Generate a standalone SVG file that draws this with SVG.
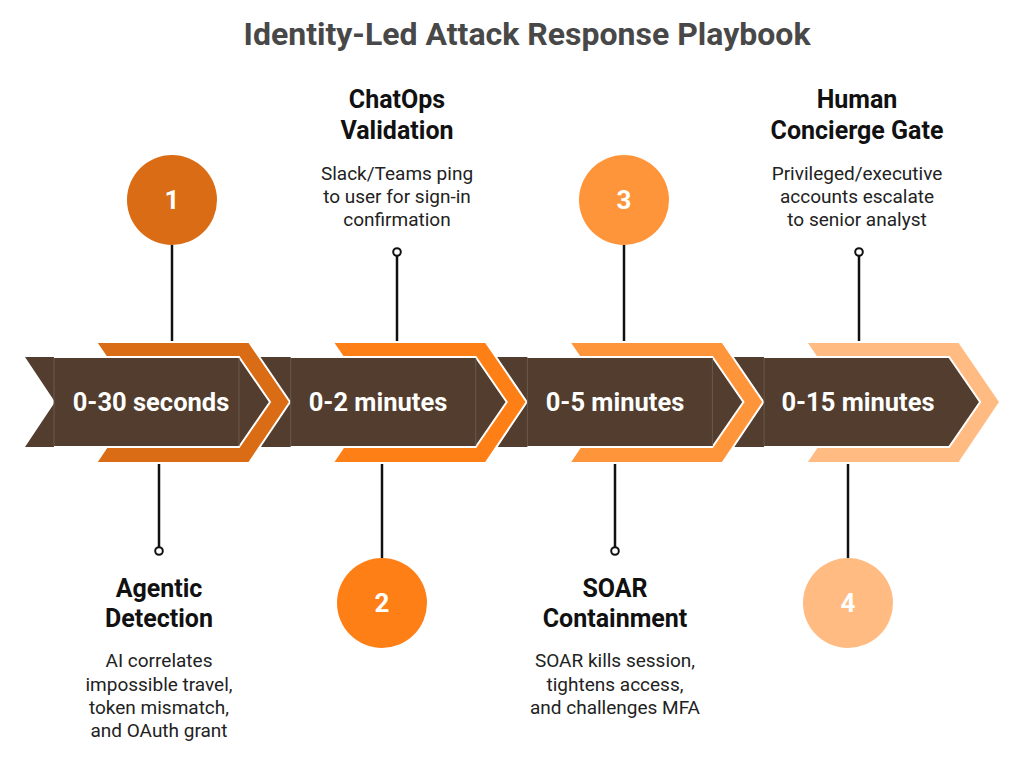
<svg xmlns="http://www.w3.org/2000/svg" width="1024" height="763" viewBox="0 0 1024 763">
<style>
.title{font-family:Roboto,"Liberation Sans",sans-serif;font-weight:700;font-size:32px;fill:#484848;text-anchor:middle}
.head{font-family:Roboto,"Liberation Sans",sans-serif;font-weight:700;font-size:25px;fill:#111;text-anchor:middle}
.desc{font-family:Roboto,"Liberation Sans",sans-serif;font-weight:400;font-size:19px;fill:#222;text-anchor:middle}
.band{font-family:Roboto,"Liberation Sans",sans-serif;font-weight:700;font-size:25.5px;fill:#fff;text-anchor:middle}
.num{font-family:Roboto,"Liberation Sans",sans-serif;font-weight:700;font-size:26px;fill:#fff;text-anchor:middle}
.dark{fill:#523D2E}
.edge{fill:none;stroke:#fff;stroke-width:2}
.seam{stroke:#6a5a4d;stroke-width:1}
.conn{stroke:#111;stroke-width:2.5;fill:none}
.pin{stroke:#111;stroke-width:2;fill:#fff}
.o1{fill:#D96C15}.o2{fill:#FF7F17}.o3{fill:#FF953A}.o4{fill:#FFBB82}
.ochev{stroke:#fff;stroke-width:2}
</style>
<defs>
<polygon id="ochevron" points="96,342 249,342 290,402 249,463 96,463 137,402"/>
<polygon id="dchevron" points="54,357 239,357 270,402 239,447 54,447"/>
<polyline id="dedge" points="54,357 239,357 270,402 239,447 54,447"/>
</defs>

<text class="title" x="527" y="45">Identity-Led Attack Response Playbook</text>

<g id="band">
<polygon class="dark" points="25,357 765,357 765,447 25,447 55,402"/>
</g>

<g id="connectors">
<line class="conn" x1="172" y1="245" x2="172" y2="342"/>
<line class="conn" x1="159" y1="463" x2="159" y2="547"/>
<line class="conn" x1="397" y1="256" x2="397" y2="342"/>
<line class="conn" x1="382" y1="463" x2="382" y2="558"/>
<line class="conn" x1="624" y1="245" x2="624" y2="342"/>
<line class="conn" x1="615" y1="463" x2="615" y2="547"/>
<line class="conn" x1="859" y1="256" x2="859" y2="342"/>
<line class="conn" x1="848" y1="463" x2="848" y2="558"/>
<circle class="pin" cx="159" cy="551" r="3.8"/>
<circle class="pin" cx="397" cy="252" r="3.8"/>
<circle class="pin" cx="615" cy="551" r="3.8"/>
<circle class="pin" cx="859" cy="252" r="3.8"/>
</g>

<g id="step1">
<use href="#ochevron" class="o1 ochev"/>
<use href="#dchevron" class="dark"/>
<use href="#dedge" class="edge"/>
<line class="seam" x1="54" y1="358" x2="54" y2="446"/>
<line class="seam" x1="239" y1="358" x2="239" y2="446"/>
<text class="band" x="151" y="411">0-30 seconds</text>
<circle class="o1" cx="172" cy="200" r="45"/>
<text class="num" x="172" y="209">1</text>
<text class="head" x="159" y="597">Agentic</text>
<text class="head" x="159" y="627">Detection</text>
<text class="desc" x="159" y="667">AI correlates</text>
<text class="desc" x="159" y="691">impossible travel,</text>
<text class="desc" x="159" y="714">token mismatch,</text>
<text class="desc" x="159" y="737">and OAuth grant</text>
</g>

<g id="step2" transform="translate(236.7,0)">
<use href="#ochevron" class="o2 ochev"/>
<use href="#dchevron" class="dark"/>
<use href="#dedge" class="edge"/>
<line class="seam" x1="54" y1="358" x2="54" y2="446"/>
<line class="seam" x1="239" y1="358" x2="239" y2="446"/>
</g>
<g id="step2-text">
<text class="band" x="378" y="411">0-2 minutes</text>
<circle class="o2" cx="382" cy="603" r="45"/>
<text class="num" x="382" y="612">2</text>
<text class="head" x="397" y="108">ChatOps</text>
<text class="head" x="397" y="139">Validation</text>
<text class="desc" x="397" y="180">Slack/Teams ping</text>
<text class="desc" x="397" y="203">to user for sign-in</text>
<text class="desc" x="397" y="226">confirmation</text>
</g>

<g id="step3" transform="translate(473.4,0)">
<use href="#ochevron" class="o3 ochev"/>
<use href="#dchevron" class="dark"/>
<use href="#dedge" class="edge"/>
<line class="seam" x1="54" y1="358" x2="54" y2="446"/>
<line class="seam" x1="239" y1="358" x2="239" y2="446"/>
</g>
<g id="step3-text">
<text class="band" x="615" y="411">0-5 minutes</text>
<circle class="o3" cx="624" cy="200" r="45"/>
<text class="num" x="624" y="209">3</text>
<text class="head" x="615" y="597">SOAR</text>
<text class="head" x="615" y="627">Containment</text>
<text class="desc" x="615" y="667">SOAR kills session,</text>
<text class="desc" x="615" y="691">tightens access,</text>
<text class="desc" x="615" y="714">and challenges MFA</text>
</g>

<g id="step4" transform="translate(710.1,0)">
<use href="#ochevron" class="o4 ochev"/>
<use href="#dchevron" class="dark"/>
<use href="#dedge" class="edge"/>
<line class="seam" x1="54" y1="358" x2="54" y2="446"/>
</g>
<g id="step4-text">
<text class="band" x="858" y="411">0-15 minutes</text>
<circle class="o4" cx="848" cy="603" r="45"/>
<text class="num" x="848" y="612">4</text>
<text class="head" x="857" y="108">Human</text>
<text class="head" x="857" y="139">Concierge Gate</text>
<text class="desc" x="857" y="180">Privileged/executive</text>
<text class="desc" x="857" y="203">accounts escalate</text>
<text class="desc" x="857" y="226">to senior analyst</text>
</g>
</svg>
